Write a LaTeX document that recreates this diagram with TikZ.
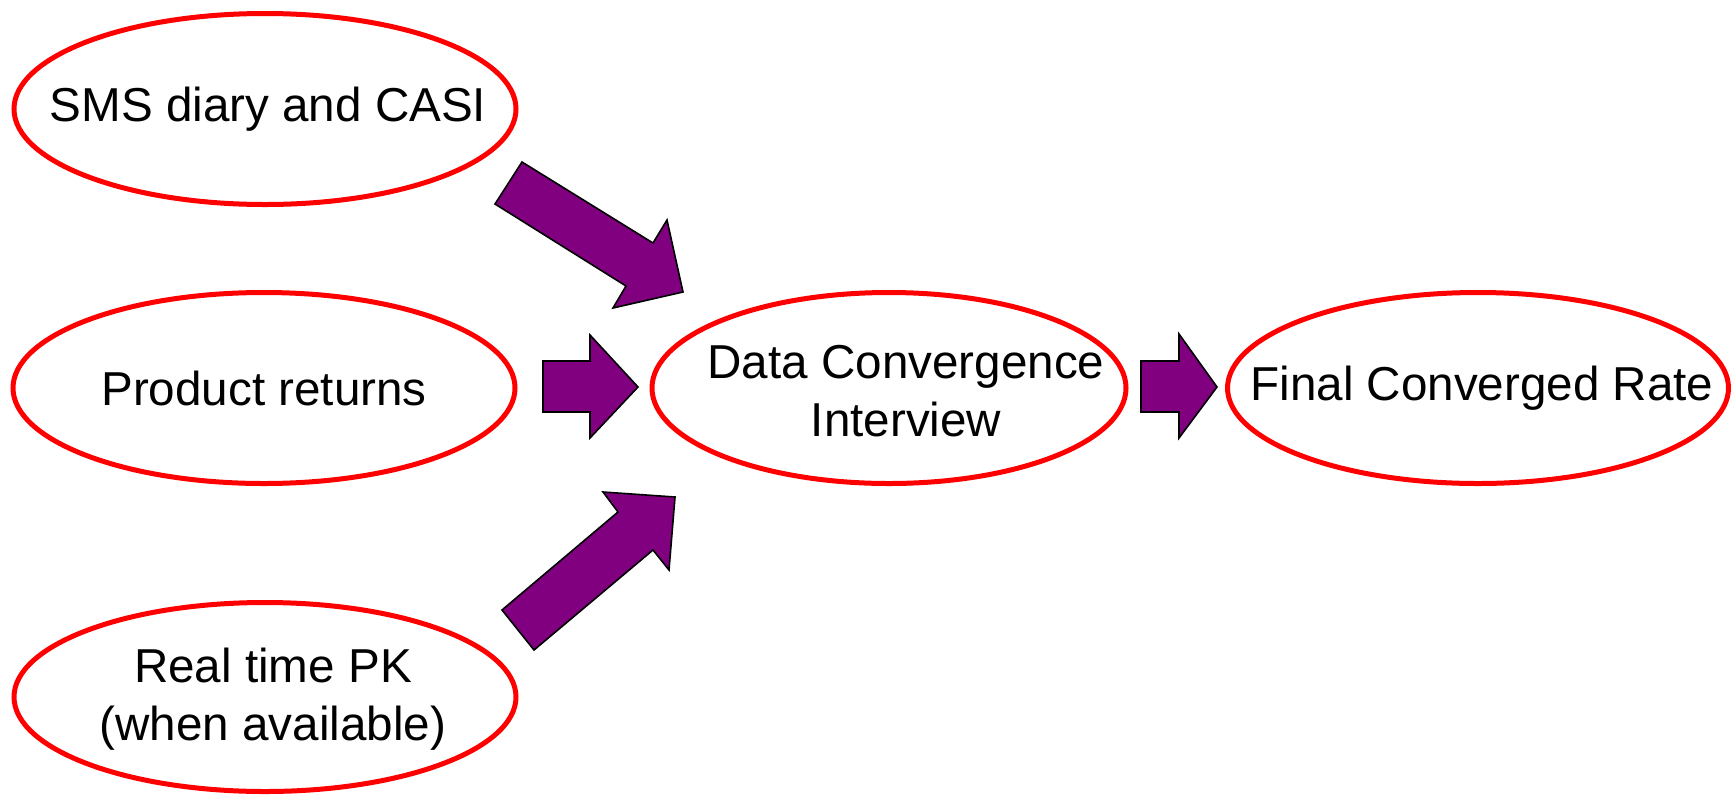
\documentclass[tikz,border=0pt]{standalone}
\usepackage{fontspec}
\setmainfont{Liberation Sans}
\usetikzlibrary{shapes.geometric}
\definecolor{ringred}{RGB}{255,0,0}
\definecolor{blockpurple}{RGB}{128,0,128}
\tikzset{
  ring/.style={ellipse, draw=ringred, line width=5pt, fill=white, inner sep=0pt},
  label/.style={font=\fontsize{47.6}{58}\selectfont, align=center, inner sep=0pt},
  blockarrow/.style={fill=blockpurple, draw=black, line width=1.6pt, line join=miter}
}
\begin{document}
\begin{tikzpicture}[x=1pt, y=-1pt]
\useasboundingbox (0,0) rectangle (1734,796);

% source, hub and result ellipses
\node[ring, minimum width=502pt, minimum height=191pt] (sms) at (265,109) {};
\node[ring, minimum width=502pt, minimum height=191pt] (prod) at (264,388) {};
\node[ring, minimum width=502pt, minimum height=189pt] (pk) at (265,697) {};
\node[ring, minimum width=474pt, minimum height=191pt] (dci) at (889,388) {};
\node[ring, minimum width=501pt, minimum height=191pt] (rate) at (1478,388) {};

\node[label] (smst) at ([xshift=3pt]sms) {SMS diary and CASI};
\node[label] (prodt) at (prod) {Product returns};
\node[label] (pkt) at ([xshift=8pt, yshift=-2pt]pk) {Real time PK\\(when available)};
\node[label] (dcit) at ([xshift=17pt, yshift=-3pt]dci) {Data Convergence\\Interview};
\node[label] (ratet) at ([xshift=4pt]rate) {Final Converged Rate};

% block arrows feeding the interview and the final rate
\draw[blockarrow] (522,162) -- (653,243) -- (667,220) -- (683,292) -- (613,308) -- (626,286) -- (495,204) -- cycle;
\draw[blockarrow] (543,361) -- (590,361) -- (590,335) -- (638,387) -- (590,438) -- (590,412) -- (543,412) -- cycle;
\draw[blockarrow] (502,610) -- (618,512) -- (603,492) -- (675,497) -- (669,570) -- (653,550) -- (534,650) -- cycle;
\draw[blockarrow] (1141,361) -- (1179,361) -- (1179,334) -- (1217,387) -- (1179,438) -- (1179,412) -- (1141,412) -- cycle;
\end{tikzpicture}
\end{document}
